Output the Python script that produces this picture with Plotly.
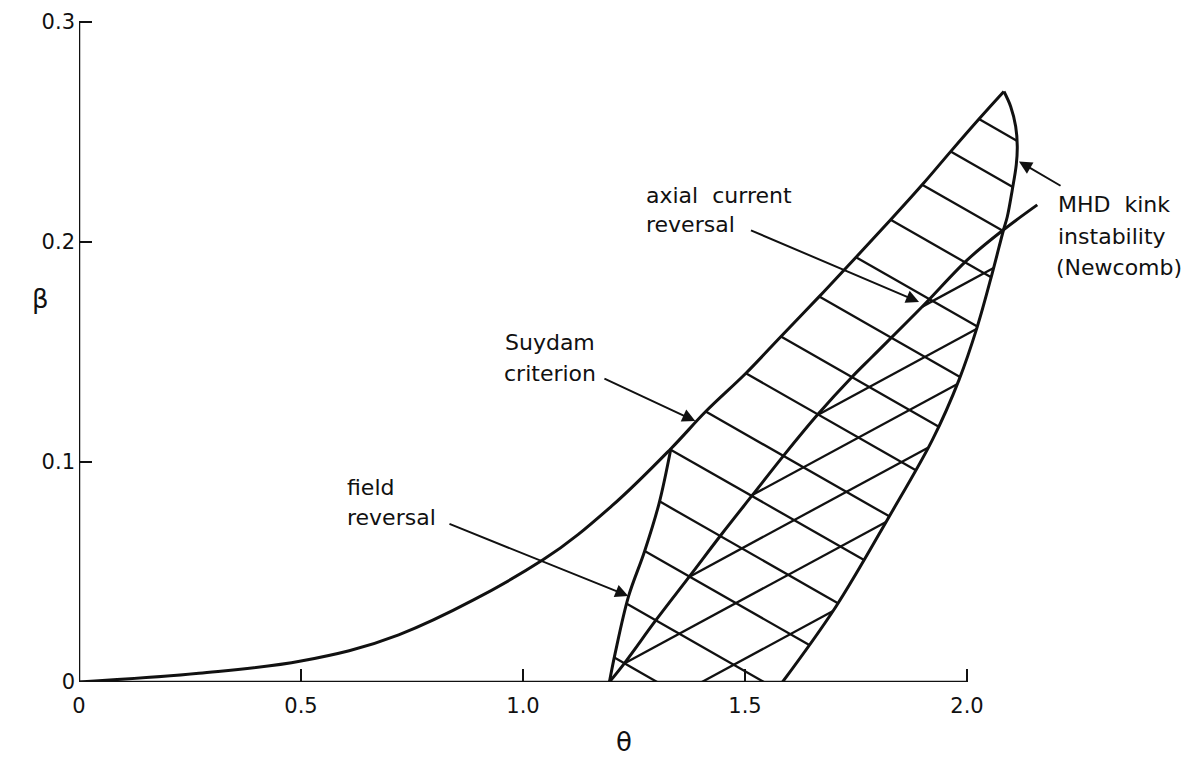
import numpy as np
import plotly.graph_objects as go

# ---- boundary curves of the stability diagram (theta, beta) ----
suydam_theta = [0.0, 0.27, 0.50, 0.72, 1.045, 1.20, 1.333, 1.412, 1.502, 1.581,
                1.667, 1.750, 1.828, 1.899, 1.963, 2.027, 2.083]
suydam_beta = [0.0, 0.004, 0.0095, 0.0214, 0.0555, 0.080, 0.106, 0.123, 0.1403, 0.157,
               0.1751, 0.193, 0.210, 0.2259, 0.241, 0.2558, 0.2683]

field_rev_theta = [1.1946, 1.2075, 1.2375, 1.2735, 1.3065, 1.333]
field_rev_beta = [0.0, 0.013, 0.0388, 0.0592, 0.0812, 0.106]

kink_theta = [2.0832, 2.0983, 2.1096, 2.1132, 2.1109, 2.1019, 2.0907, 2.0823, 2.0569,
              2.0232, 1.982, 1.922, 1.8245, 1.7046, 1.5845]
kink_beta = [0.2683, 0.2615, 0.2524, 0.2433, 0.235, 0.2236, 0.2114, 0.2055, 0.1858,
             0.1615, 0.1373, 0.110, 0.0751, 0.0342, 0.0]

axial_theta = [1.1946, 1.2283, 1.2997, 1.3746, 1.4459, 1.517, 1.5883, 1.6632, 1.742,
               1.787, 1.8995, 2.0007, 2.0823, 2.1582]
axial_beta = [0.0, 0.0085, 0.0282, 0.0479, 0.0668, 0.085, 0.1032, 0.1214, 0.1388,
              0.1479, 0.1706, 0.1918, 0.2055, 0.2168]

# ---- hatching: beta of each hatch line at theta = 1.5, and slopes ----
hatch_ref_theta = 1.5
stable_hatch_slope = -0.1152
stable_hatch_levels = [0.3165, 0.2944, 0.2719, 0.2478, 0.2218, 0.1944, 0.1663,
                       0.1405, 0.1127, 0.0863, 0.0599, 0.0335, 0.0049, -0.0228]
cross_hatch_slope = 0.1091
cross_hatch_levels = [0.127, 0.1035, 0.0832, 0.0615, 0.0381, 0.0106]

x_ticks = [0, 0.5, 1.0, 1.5, 2.0]
x_tick_text = ["0", "0.5", "1.0", "1.5", "2.0"]
y_ticks = [0, 0.1, 0.2, 0.3]
y_tick_text = ["0", "0.1", "0.2", "0.3"]

INK = "#111111"
FONT = "DejaVu Sans"


def clip_line_to_polygon(p0, d, poly):
    """Return the segments of the infinite line p0 + t*d lying inside poly."""
    ts = []
    n = len(poly)
    for i in range(n):
        a = poly[i]
        b = poly[(i + 1) % n]
        e = b - a
        den = d[0] * e[1] - d[1] * e[0]
        if abs(den) < 1e-12:
            continue
        w = a - p0
        t = (w[0] * e[1] - w[1] * e[0]) / den
        s = (w[0] * d[1] - w[1] * d[0]) / den
        if -1e-9 <= s < 1 - 1e-9:
            ts.append(t)
    ts.sort()
    segs = []
    for k in range(0, len(ts) - 1, 2):
        segs.append((p0 + ts[k] * d, p0 + ts[k + 1] * d))
    return segs


def pts(th, be):
    return np.column_stack([np.asarray(th, float), np.asarray(be, float)])


# whole marginally-stable region: field reversal -> Suydam -> kink -> theta axis
top_idx = suydam_theta.index(1.333)
region_all = np.vstack([
    pts(field_rev_theta, field_rev_beta),
    pts(suydam_theta[top_idx + 1:], suydam_beta[top_idx + 1:]),
    pts(kink_theta[1:], kink_beta[1:]),
])

# sub-region with reversed axial current: axial line -> kink -> theta axis
cross_idx = axial_theta.index(2.0823)
kink_cross = kink_theta.index(2.0823)
region_rev = np.vstack([
    pts(axial_theta[:cross_idx + 1], axial_beta[:cross_idx + 1]),
    pts(kink_theta[kink_cross + 1:], kink_beta[kink_cross + 1:]),
])


def hatch_xy(levels, slope, poly):
    xs, ys = [], []
    d = np.array([1.0, slope])
    for lev in levels:
        p0 = np.array([hatch_ref_theta, lev])
        for a, b in clip_line_to_polygon(p0, d, poly):
            xs += [a[0], b[0], None]
            ys += [a[1], b[1], None]
    return xs, ys


fig = go.Figure()

hx, hy = hatch_xy(stable_hatch_levels, stable_hatch_slope, region_all)
fig.add_trace(go.Scatter(x=hx, y=hy, mode="lines", line=dict(color=INK, width=2.3),
                         hoverinfo="skip", showlegend=False))
cx, cy = hatch_xy(cross_hatch_levels, cross_hatch_slope, region_rev)
fig.add_trace(go.Scatter(x=cx, y=cy, mode="lines", line=dict(color=INK, width=2.3),
                         hoverinfo="skip", showlegend=False))

curve_style = dict(color=INK, width=3, shape="spline", smoothing=1.0)
for th, be, name in [
    (suydam_theta, suydam_beta, "Suydam criterion"),
    (field_rev_theta, field_rev_beta, "field reversal"),
    (kink_theta, kink_beta, "MHD kink"),
    (axial_theta, axial_beta, "axial current reversal"),
]:
    fig.add_trace(go.Scatter(x=th, y=be, mode="lines", line=curve_style,
                             name=name, showlegend=False))

# axis lines ending at the last tick
fig.add_shape(type="line", xref="x", yref="y", x0=0, y0=0, x1=2.0, y1=0,
              line=dict(color=INK, width=2.5))
fig.add_shape(type="line", xref="x", yref="y", x0=0, y0=0, x1=0, y1=0.3,
              line=dict(color=INK, width=2.5))

# labels (one annotation per text line)
labels = [
    ("Suydam", 0.955, 0.1541),
    ("criterion", 0.952, 0.1400),
    ("field", 0.600, 0.0882),
    ("reversal", 0.600, 0.0746),
    ("axial  current", 1.272, 0.2212),
    ("reversal", 1.272, 0.2077),
    ("MHD  kink", 2.200, 0.2168),
    ("instability", 2.200, 0.2025),
    ("(Newcomb)", 2.196, 0.1885),
]
for txt, lx, ly in labels:
    fig.add_annotation(x=lx, y=ly, text=txt, showarrow=False, xanchor="left",
                       yanchor="middle", font=dict(family=FONT, size=22, color=INK))

arrows = [  # (tail theta, tail beta, tip theta, tip beta)
    (1.180, 0.1382, 1.388, 0.1186),
    (0.831, 0.0721, 1.237, 0.0391),
    (1.510, 0.2055, 1.892, 0.1727),
    (2.214, 0.2251, 2.117, 0.2365),
]
for tx, ty, hx_, hy_ in arrows:
    fig.add_annotation(x=hx_, y=hy_, ax=tx, ay=ty, xref="x", yref="y",
                       axref="x", ayref="y", text="", showarrow=True,
                       arrowhead=2, arrowsize=1.3, arrowwidth=2, arrowcolor=INK)

# axis titles
fig.add_annotation(x=1.228, y=-0.088, text="θ", showarrow=False, xref="x", yref="paper",
                   xanchor="center", yanchor="middle",
                   font=dict(family=FONT, size=26, color=INK))
fig.add_annotation(x=-0.035, y=0.174, text="β", showarrow=False, xref="paper", yref="y",
                   xanchor="center", yanchor="middle",
                   font=dict(family=FONT, size=26, color=INK))

fig.update_xaxes(range=[0, 2.4887], tickvals=x_ticks, ticktext=x_tick_text,
                 ticks="inside", ticklen=13, tickwidth=2, tickcolor=INK,
                 showgrid=False, zeroline=False, showline=False,
                 tickfont=dict(family=FONT, size=21, color=INK), ticklabelstandoff=9)
fig.update_yaxes(range=[0, 0.3099], tickvals=y_ticks, ticktext=y_tick_text,
                 ticks="inside", ticklen=13, tickwidth=2, tickcolor=INK,
                 showgrid=False, zeroline=False, showline=False,
                 tickfont=dict(family=FONT, size=21, color=INK), ticklabelstandoff=3)

fig.update_layout(width=1184, height=757, margin=dict(l=79, r=0, t=0, b=75),
                  paper_bgcolor="white", plot_bgcolor="white", showlegend=False)

fig.write_html("out.html")
